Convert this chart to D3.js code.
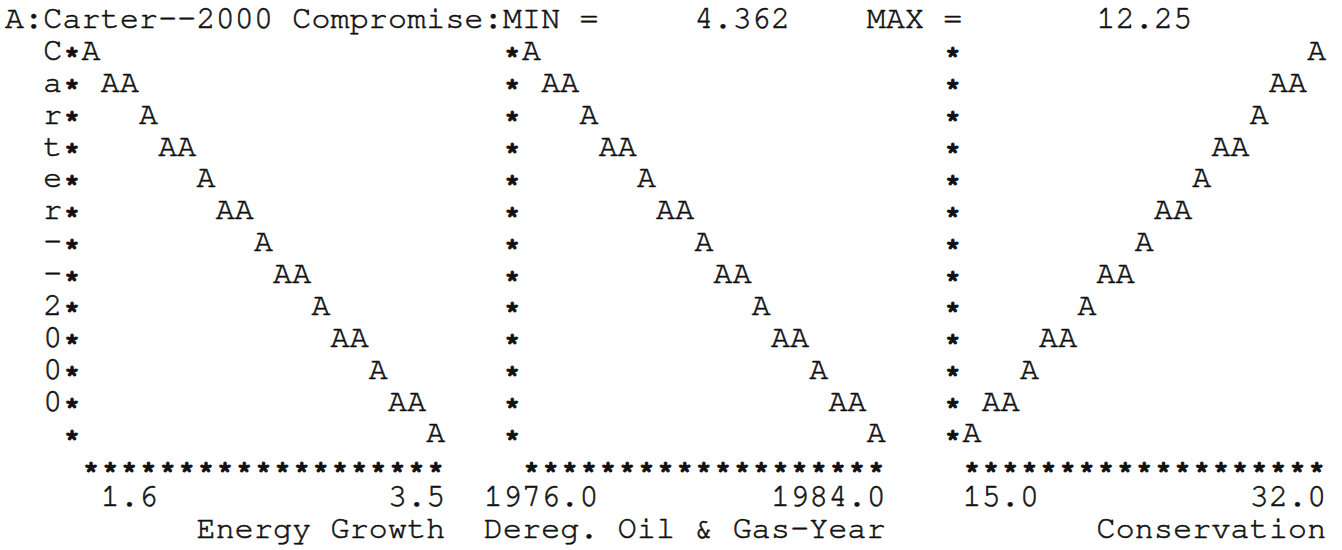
<!DOCTYPE html>
<html>
<head>
<meta charset="utf-8">
<script src="https://cdn.jsdelivr.net/npm/d3@7"></script>
<style>
  html, body { margin: 0; padding: 0; background: #fff; }
  svg { display: block; }
  text { font-family: "Nimbus Mono PS", "Nimbus Mono L", "FreeMono", "Courier New", "Liberation Mono", "DejaVu Sans Mono", monospace; font-size: 31.5px; fill: #111; stroke: #111; stroke-width: 0.6px; }
  text.star { font-size: 25px; font-weight: bold; stroke-width: 0.9px; }
</style>
</head>
<body>
<div id="chart"></div>
<script>
const seriesName = 'Carter--2000';
const titleText = 'A:Carter--2000 Compromise:MIN =';
const minValue = 4.362;
const maxValue = 12.25;

const axisTitles = ['Energy Growth', 'Dereg. Oil & Gas-Year', 'Conservation'];
const tickLabels = [['1.6', '3.5'], ['1976.0', '1984.0'], ['15.0', '32.0']];

const energyGrowth = [1.60, 1.71, 1.81, 1.92, 2.02, 2.13, 2.23, 2.34, 2.44, 2.55, 2.66, 2.76, 2.87, 2.97, 3.08, 3.18, 3.29, 3.39, 3.50];
const energyValues = [12.25, 11.81, 11.37, 10.93, 10.50, 10.06, 9.62, 9.18, 8.74, 8.31, 7.87, 7.43, 6.99, 6.55, 6.11, 5.68, 5.24, 4.80, 4.362];

const deregYear = [1976.0, 1976.4, 1976.9, 1977.3, 1977.8, 1978.2, 1978.7, 1979.1, 1979.6, 1980.0, 1980.4, 1980.9, 1981.3, 1981.8, 1982.2, 1982.7, 1983.1, 1983.6, 1984.0];
const deregValues = [12.25, 11.80, 11.36, 10.92, 10.49, 10.05, 9.61, 9.17, 8.73, 8.30, 7.86, 7.42, 6.98, 6.54, 6.10, 5.67, 5.23, 4.79, 4.362];

const conservation = [15.0, 15.9, 16.9, 17.8, 18.8, 19.7, 20.7, 21.6, 22.6, 23.5, 24.4, 25.4, 26.3, 27.3, 28.2, 29.2, 30.1, 31.1, 32.0];
const conservationValues = [4.362, 4.80, 5.24, 5.68, 6.11, 6.55, 6.99, 7.43, 7.87, 8.31, 8.74, 9.18, 9.62, 10.06, 10.50, 10.93, 11.37, 11.81, 12.25];

const width = 1342;
const height = 550;

// character grid of the printout: x = left edge of a cell, y = baseline of a line
const cellW = 19.15;
const colX = d3.scaleLinear().domain([0, 1]).range([4.9, 4.9 + cellW]);
const rowY = d3.scaleLinear().domain([0, 1]).range([28, 59.875]);
const spacing = cellW - 31.5 * 0.6;
const starDrop = 2.5;

const svg = d3.select('#chart')
    .append('svg')
    .attr('width', width)
    .attr('height', height);

svg.append('rect')
    .attr('width', width)
    .attr('height', height)
    .attr('fill', '#fff');

// a string laid on the grid, starting at col (or ending before col)
function gridText(parent, str, col, row, anchor) {
    const start = anchor === 'end' ? col - str.length : col;
    return parent.append('text')
        .attr('x', colX(start) + spacing / 2)
        .attr('y', rowY(row))
        .style('letter-spacing', spacing + 'px')
        .text(str);
}

// header line
const header = svg.append('g').attr('class', 'header');
gridText(header, titleText, 0, 0);
gridText(header, minValue.toFixed(3), 41, 0, 'end');
gridText(header, 'MAX =', 45, 0);
gridText(header, maxValue.toFixed(2), 62, 0, 'end');

// series name written down the left side
svg.append('g')
    .selectAll('text')
    .data(seriesName.split(''))
    .enter()
        .append('text')
        .attr('x', colX(2.5))
        .attr('y', (d, i) => rowY(i + 1))
        .attr('text-anchor', 'middle')
        .text((d) => d);

const panels = [
    { x: energyGrowth, y: energyValues, ticks: tickLabels[0], title: axisTitles[0] },
    { x: deregYear, y: deregValues, ticks: tickLabels[1], title: axisTitles[1] },
    { x: conservation, y: conservationValues, ticks: tickLabels[2], title: axisTitles[2] }
];

panels.forEach((p, i) => {
    const axisCol = 3 + i * 23;
    const xScale = d3.scaleLinear()
        .domain(d3.extent(p.x))
        .range([axisCol + 1, axisCol + 19]);
    const yScale = d3.scaleLinear()
        .domain([minValue, maxValue])
        .range([13, 1]);

    const g = svg.append('g').attr('class', 'panel');

    g.selectAll('.ystar')
        .data(d3.range(1, 14))
        .enter()
            .append('text')
            .attr('class', 'star ystar')
            .attr('x', colX(axisCol + 0.5))
            .attr('y', (d) => rowY(d) + starDrop)
            .attr('text-anchor', 'middle')
            .text('*');

    g.selectAll('.xstar')
        .data(d3.range(axisCol + 1, axisCol + 20))
        .enter()
            .append('text')
            .attr('class', 'star xstar')
            .attr('x', (d) => colX(d + 0.5))
            .attr('y', rowY(14) + starDrop)
            .attr('text-anchor', 'middle')
            .text('*');

    g.selectAll('.point')
        .data(p.x.map((v, j) => [v, p.y[j]]))
        .enter()
            .append('text')
            .attr('class', 'point')
            .attr('x', (d) => colX(Math.round(xScale(d[0])) + 0.5))
            .attr('y', (d) => rowY(Math.round(yScale(d[1]))))
            .attr('text-anchor', 'middle')
            .text('A');

    gridText(g, p.ticks[0], axisCol + 5, 15, 'end');
    gridText(g, p.ticks[1], axisCol + 20, 15, 'end');
    gridText(g, p.title, axisCol + 20, 16, 'end');
});
</script>
</body>
</html>
